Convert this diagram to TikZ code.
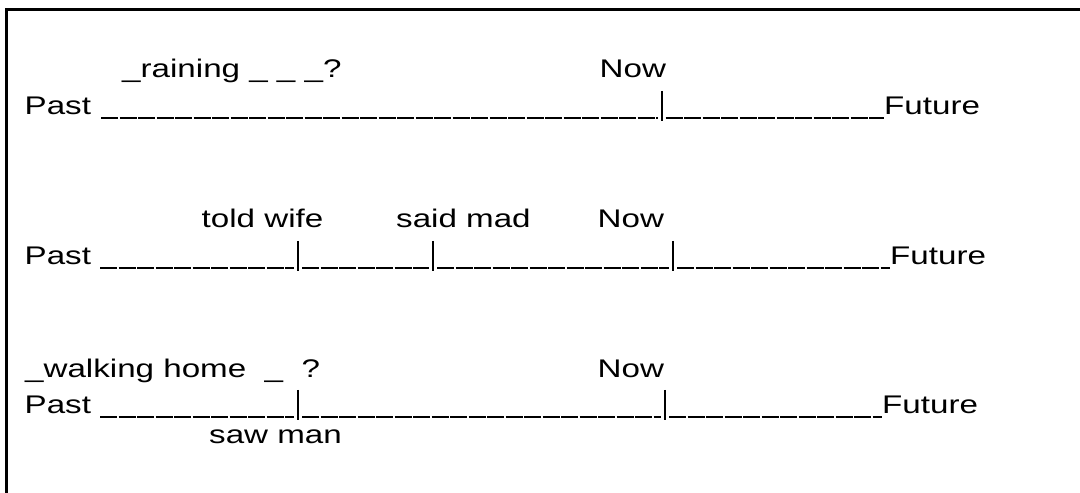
\documentclass[tikz,border=0pt]{standalone}
\usepackage{fontspec}
\setmainfont{Liberation Sans}
\newfontfamily\widefont[FakeStretch=1.3]{Liberation Sans}
\usetikzlibrary{positioning}
\tikzset{
  lab/.style={font=\widefont\fontsize{25.5}{30}\selectfont, anchor=base west, inner sep=0pt, text=black},
  tk/.style={inner sep=0pt, minimum width=0pt, minimum height=30pt, outer xsep=4pt},
  tickline/.style={draw=black, line width=2pt},
  rule/.style={draw=black, line width=1.4pt, dash pattern=on 17pt off 1.5pt},
  frame/.style={draw=black, line width=2.7pt},
}
\begin{document}
\begin{tikzpicture}[x=1pt, y=-1pt]
\useasboundingbox (0,0) rectangle (1080,493);
\begin{scope}
  \clip (0,0) rectangle (1080,493);
  \draw[frame] (6.3,9.7) rectangle (1100,520);
\end{scope}

% first line: raining
\node[lab] (past1) at (24.5,114) {Past};
\node[lab] (rain) at (122,77) {\_raining \_ \_ \_?};
\node[lab] (nowlab1) at (599.5,77) {Now};
\node[tk] (now1) at (661.5,106) {};
\node[lab] (fut1) at (884,114) {Future};
\coordinate (s1) at (101,118);
\draw[rule] (s1) -- (s1 -| now1.west);
\draw[rule] (s1 -| now1.east) -- (s1 -| fut1.west);

% second line: told wife, said mad
\node[lab] (past2) at (24.5,264) {Past};
\node[lab] (told) at (201.5,227) {told wife};
\node[lab] (said) at (396,227) {said mad};
\node[lab] (nowlab2) at (597.5,227) {Now};
\node[tk] (wife2) at (298,256) {};
\node[tk] (mad2) at (433,256) {};
\node[tk] (now2) at (673,256) {};
\node[lab] (fut2) at (890,264) {Future};
\coordinate (s2) at (100,268);
\draw[rule] (s2) -- (s2 -| wife2.west);
\draw[rule] (s2 -| wife2.east) -- (s2 -| mad2.west);
\draw[rule] (s2 -| mad2.east) -- (s2 -| now2.west);
\draw[rule] (s2 -| now2.east) -- (s2 -| fut2.west);

% third line: walking home, saw man
\node[lab] (past3) at (24.5,413) {Past};
\node[lab] (walk) at (25,377) {\_walking home\ \ \_\ \ ?};
\node[lab] (nowlab3) at (597.5,377) {Now};
\node[tk] (man3) at (298,405) {};
\node[tk] (now3) at (665,405) {};
\node[lab] (fut3) at (882,413) {Future};
\node[lab] (saw) at (209,443) {saw man};
\coordinate (s3) at (100,417);
\draw[rule] (s3) -- (s3 -| man3.west);
\draw[rule] (s3 -| man3.east) -- (s3 -| now3.west);
\draw[rule] (s3 -| now3.east) -- (s3 -| fut3.west);

\foreach \t in {now1,wife2,mad2,now2,man3,now3}
  \draw[tickline] (\t.north) -- (\t.south);
\end{tikzpicture}
\end{document}
